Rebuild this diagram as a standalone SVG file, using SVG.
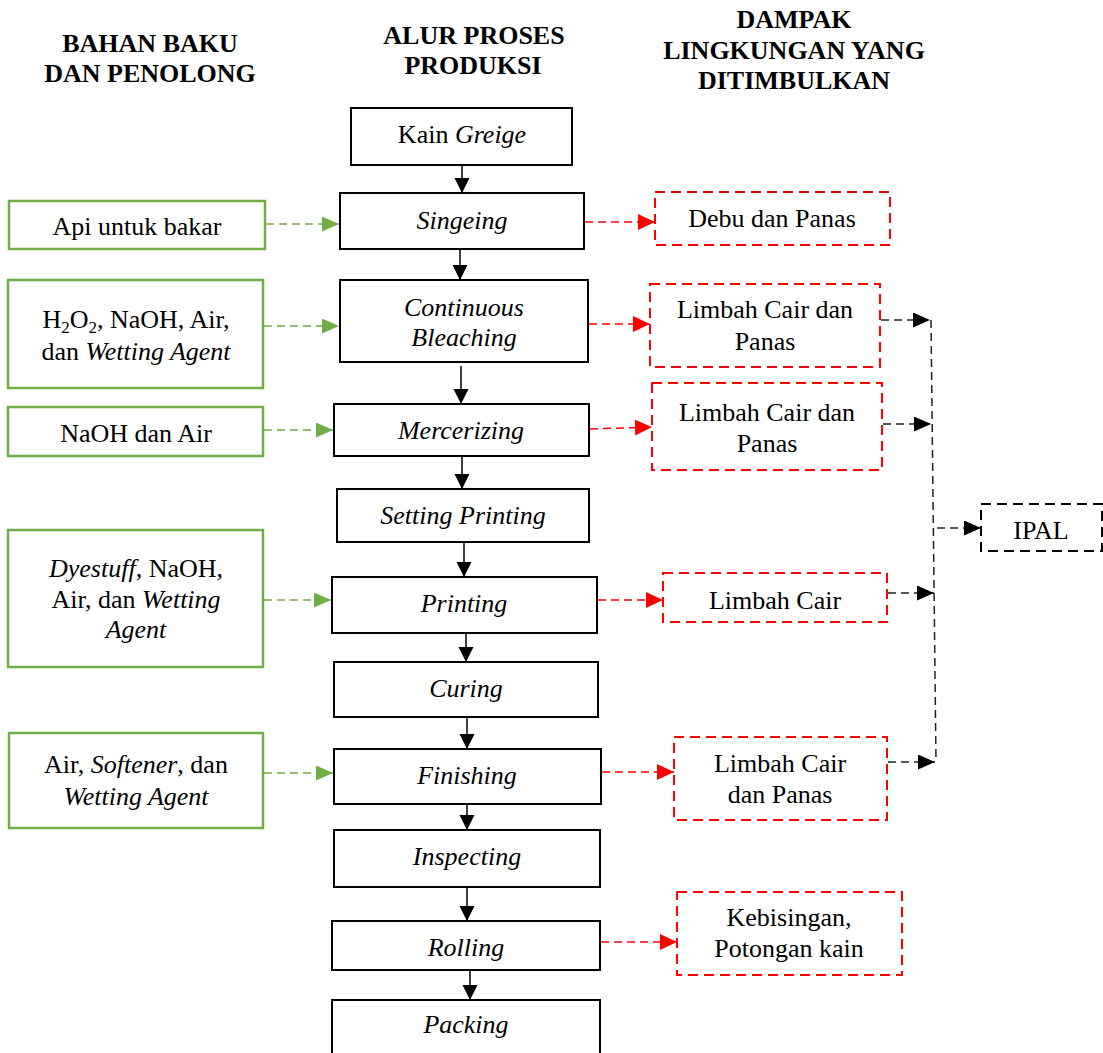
<svg xmlns="http://www.w3.org/2000/svg" width="1103" height="1053" viewBox="0 0 1103 1053">
<style>
text{font-family:"Liberation Serif","Times New Roman",serif;font-size:26px;fill:#000;text-anchor:middle}
.h{font-weight:bold}
.i{font-style:italic}
.proc{fill:#fff;stroke:#000;stroke-width:2}
.inp{fill:#fff;stroke:#70AD47;stroke-width:2.5}
.imp{fill:#fff;stroke:#FF0000;stroke-width:2;stroke-dasharray:10 6}
.ipal{fill:#fff;stroke:#000;stroke-width:2;stroke-dasharray:10 6}
.fl{fill:none;stroke:#000;stroke-width:1.5}
.gl{fill:none;stroke:#70AD47;stroke-width:1.5;stroke-dasharray:8 5}
.rl{fill:none;stroke:#FF0000;stroke-width:1.5;stroke-dasharray:8 5}
.kl{fill:none;stroke:#222;stroke-width:1.5;stroke-dasharray:8 5}
</style>
<defs>
<marker id="ab" markerUnits="userSpaceOnUse" markerWidth="15" markerHeight="16" refX="15" refY="7.5" orient="auto"><path d="M0,0 L15,7.5 L0,15 Z" fill="#000"/></marker>
<marker id="ag" markerUnits="userSpaceOnUse" markerWidth="17" markerHeight="16" refX="17" refY="7.5" orient="auto"><path d="M0,0 L17,7.5 L0,15 Z" fill="#70AD47"/></marker>
<marker id="ar" markerUnits="userSpaceOnUse" markerWidth="17" markerHeight="17" refX="17" refY="8" orient="auto"><path d="M0,0 L17,8 L0,16 Z" fill="#FF0000"/></marker>
<marker id="ak" markerUnits="userSpaceOnUse" markerWidth="17" markerHeight="16" refX="17" refY="7.5" orient="auto"><path d="M0,0 L17,7.5 L0,15 Z" fill="#000"/></marker>
</defs>

<g id="headers">
<text class="h" x="150" y="52">BAHAN BAKU</text>
<text class="h" x="150" y="82">DAN PENOLONG</text>
<text class="h" x="474" y="44">ALUR PROSES</text>
<text class="h" x="473" y="74">PRODUKSI</text>
<text class="h" x="794" y="28">DAMPAK</text>
<text class="h" x="794" y="59">LINGKUNGAN YANG</text>
<text class="h" x="794" y="89">DITIMBULKAN</text>
</g>

<g id="connectors">
<line class="fl" x1="462" y1="165" x2="462" y2="193" marker-end="url(#ab)"/>
<line class="fl" x1="460" y1="249" x2="460" y2="280" marker-end="url(#ab)"/>
<line class="fl" x1="461" y1="366" x2="461" y2="404" marker-end="url(#ab)"/>
<line class="fl" x1="462" y1="456" x2="462" y2="489" marker-end="url(#ab)"/>
<line class="fl" x1="464" y1="542" x2="464" y2="577" marker-end="url(#ab)"/>
<line class="fl" x1="466" y1="633" x2="466" y2="662" marker-end="url(#ab)"/>
<line class="fl" x1="467" y1="717" x2="467" y2="749" marker-end="url(#ab)"/>
<line class="fl" x1="467" y1="804" x2="467" y2="830" marker-end="url(#ab)"/>
<line class="fl" x1="467" y1="887" x2="467" y2="921" marker-end="url(#ab)"/>
<line class="fl" x1="470" y1="970" x2="470" y2="1000" marker-end="url(#ab)"/>

<line class="gl" x1="266" y1="224" x2="339" y2="224" marker-end="url(#ag)"/>
<line class="gl" x1="264" y1="326" x2="339" y2="326" marker-end="url(#ag)"/>
<line class="gl" x1="264" y1="430" x2="333" y2="430" marker-end="url(#ag)"/>
<line class="gl" x1="264" y1="600" x2="331" y2="600" marker-end="url(#ag)"/>
<line class="gl" x1="264" y1="773" x2="333" y2="773" marker-end="url(#ag)"/>

<line class="rl" x1="585" y1="222" x2="655" y2="222" marker-end="url(#ar)"/>
<line class="rl" x1="589" y1="324" x2="650" y2="324" marker-end="url(#ar)"/>
<line class="rl" x1="590" y1="429" x2="652" y2="427" marker-end="url(#ar)"/>
<line class="rl" x1="598" y1="600" x2="663" y2="600" marker-end="url(#ar)"/>
<line class="rl" x1="602" y1="772" x2="674" y2="772" marker-end="url(#ar)"/>
<line class="rl" x1="601" y1="942" x2="677" y2="942" marker-end="url(#ar)"/>

<line class="kl" x1="931" y1="320" x2="936" y2="762"/>
<line class="kl" x1="881" y1="320" x2="930" y2="320" marker-end="url(#ak)"/>
<line class="kl" x1="883" y1="424" x2="931" y2="424" marker-end="url(#ak)"/>
<line class="kl" x1="888" y1="593" x2="934" y2="593" marker-end="url(#ak)"/>
<line class="kl" x1="888" y1="762" x2="935" y2="762" marker-end="url(#ak)"/>
<line class="kl" x1="937" y1="528" x2="981" y2="528" marker-end="url(#ak)"/>
</g>

<g id="kain-greige"><rect class="proc" x="351" y="108" width="221" height="57"/><text x="462" y="143">Kain <tspan class="i">Greige</tspan></text></g>
<g id="singeing"><rect class="proc" x="340" y="193" width="244" height="56"/><text class="i" x="462" y="229">Singeing</text></g>
<g id="continuous-bleaching"><rect class="proc" x="340" y="280" width="248" height="82"/><text class="i" x="464" y="316">Continuous</text><text class="i" x="464" y="346">Bleaching</text></g>
<g id="mercerizing"><rect class="proc" x="334" y="404" width="255" height="52"/><text class="i" x="461" y="439">Mercerizing</text></g>
<g id="setting-printing"><rect class="proc" x="337" y="489" width="252" height="53"/><text class="i" x="463" y="524">Setting Printing</text></g>
<g id="printing"><rect class="proc" x="332" y="577" width="265" height="56"/><text class="i" x="464" y="612">Printing</text></g>
<g id="curing"><rect class="proc" x="334" y="662" width="264" height="55"/><text class="i" x="466" y="697">Curing</text></g>
<g id="finishing"><rect class="proc" x="334" y="749" width="267" height="55"/><text class="i" x="467" y="784">Finishing</text></g>
<g id="inspecting"><rect class="proc" x="334" y="830" width="266" height="57"/><text class="i" x="467" y="865">Inspecting</text></g>
<g id="rolling"><rect class="proc" x="332" y="921" width="268" height="49"/><text class="i" x="466" y="956">Rolling</text></g>
<g id="packing"><rect class="proc" x="332" y="1000" width="268" height="60"/><text class="i" x="466" y="1033">Packing</text></g>

<g id="api-untuk-bakar"><rect class="inp" x="9" y="201" width="256" height="48"/><text x="137" y="235">Api untuk bakar</text></g>
<g id="h2o2-naoh"><rect class="inp" x="8" y="280" width="255" height="108"/><text x="136" y="328">H<tspan font-size="17" dy="5">2</tspan><tspan dy="-5">O</tspan><tspan font-size="17" dy="5">2</tspan><tspan dy="-5">, NaOH, Air,</tspan></text><text x="136" y="360">dan <tspan class="i">Wetting Agent</tspan></text></g>
<g id="naoh-dan-air"><rect class="inp" x="8" y="407" width="255" height="49"/><text x="136" y="442">NaOH dan Air</text></g>
<g id="dyestuff"><rect class="inp" x="8" y="530" width="255" height="137"/><text x="136" y="577"><tspan class="i">Dyestuff</tspan>, NaOH,</text><text x="136" y="608">Air, dan <tspan class="i">Wetting</tspan></text><text class="i" x="136" y="638">Agent</text></g>
<g id="softener"><rect class="inp" x="9" y="733" width="254" height="95"/><text x="136" y="773">Air, <tspan class="i">Softener</tspan>, dan</text><text class="i" x="136" y="805">Wetting Agent</text></g>

<g id="debu-dan-panas"><rect class="imp" x="655" y="192" width="235" height="53"/><text x="772" y="227">Debu dan Panas</text></g>
<g id="limbah-1"><rect class="imp" x="650" y="284" width="230" height="83"/><text x="765" y="318">Limbah Cair dan</text><text x="765" y="350">Panas</text></g>
<g id="limbah-2"><rect class="imp" x="652" y="383" width="230" height="87"/><text x="767" y="421">Limbah Cair dan</text><text x="767" y="452">Panas</text></g>
<g id="limbah-cair"><rect class="imp" x="663" y="573" width="224" height="49"/><text x="775" y="609">Limbah Cair</text></g>
<g id="limbah-3"><rect class="imp" x="674" y="737" width="213" height="83"/><text x="780" y="772">Limbah Cair</text><text x="780" y="803">dan Panas</text></g>
<g id="kebisingan"><rect class="imp" x="677" y="892" width="225" height="83"/><text x="789" y="926">Kebisingan,</text><text x="789" y="957">Potongan kain</text></g>
<g id="ipal"><rect class="ipal" x="981" y="504" width="121" height="47"/><text x="1041" y="539">IPAL</text></g>
</svg>
